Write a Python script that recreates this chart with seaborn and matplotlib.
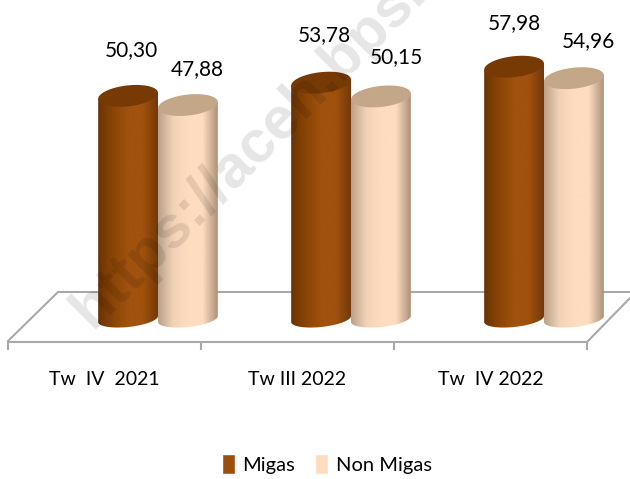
import numpy as np
import pandas as pd
import matplotlib.pyplot as plt
import seaborn as sns
from matplotlib.colors import LinearSegmentedColormap
from matplotlib.patches import PathPatch, Polygon
from matplotlib.path import Path
from matplotlib.transforms import Affine2D

# Values
quarters = ['Tw  IV  2021', 'Tw III 2022', 'Tw  IV 2022']
migas = [50.30, 53.78, 57.98]
non_migas = [47.88, 50.15, 54.96]
series_names = ['Migas', 'Non Migas']

data = pd.DataFrame({
    'quarter': quarters * 2,
    'value': migas + non_migas,
    'series': [series_names[0]] * 3 + [series_names[1]] * 3,
})

W, H = 630, 479
sns.set_style('white')
plt.rcParams['font.family'] = ['Lato', 'DejaVu Sans']

fig = plt.figure(figsize=(W / 100, H / 100), dpi=100)
# axes bottom sits on the front edge of the floor
ax = fig.add_axes([0, (H - 342) / H, 1, 342 / H])
px = Affine2D().scale(1 / W, -1 / H).translate(0, 1) + fig.transFigure

sns.barplot(data=data, x='quarter', y='value', hue='series', width=0.62, ax=ax,
            palette=['#9c4f0c', '#fedcc0'], saturation=1)
ax.set_xlim(-158 / 193, (W - 158) / 193)
ax.set_ylim((287 - 342) / 3.8, 287 / 3.8)
ax.set_xlabel('')
ax.set_ylabel('')
ax.set_yticks([])
for side in ['top', 'left', 'right']:
    ax.spines[side].set_visible(False)

# x axis: ticks between the groups, labels on minor ticks
grey = '#a9a9a9'
edges = np.arange(4) - 150 / 193
ax.spines['bottom'].set_color(grey)
ax.spines['bottom'].set_linewidth(1.5)
ax.spines['bottom'].set_bounds(edges[0], edges[-1])
ax.set_xticks(edges)
ax.set_xticklabels([])
ax.set_xticks(edges[:-1] + 0.5, minor=True)
ax.set_xticklabels(quarters, minor=True, fontsize=14, color='black')
ax.tick_params(axis='x', which='major', bottom=True, length=6, width=1.5, color=grey)
ax.tick_params(axis='x', which='minor', bottom=False, length=0, pad=21)

# floor of the 3D box
ax.plot([8, 58, W], [341, 292, 292], color=grey, lw=1.5, transform=px, zorder=1)
ax.plot([588, W], [341, 298], color=grey, lw=1.5, transform=px, zorder=1)

leg = ax.legend(ncol=2, frameon=False, fontsize=14.5, loc='center', labelcolor='black',
                bbox_to_anchor=(327 / W, 1 - 464 / H), bbox_transform=fig.transFigure,
                handlelength=0.6, handleheight=1.1, handletextpad=0.4, columnspacing=1.0)

body_maps = [
    LinearSegmentedColormap.from_list('m', ['#6b3303', '#8a4506', '#a0520e', '#a0520e', '#73390a']),
    LinearSegmentedColormap.from_list('n', ['#b9a18a', '#f2d2b6', '#fedcc0', '#fedcc0', '#ad9279']),
]
top_colors = ['#783a05', '#c4a688']
floor_y, floor_b, top_b, tilt = 319, 8, 10.5, 3
t = np.linspace(0, 2 * np.pi, 90)
grad = np.linspace(0, 1, 128).reshape(1, -1)

# label offsets from each bar top, in pixels (Migas bars first, then Non Migas)
label_dy = [46, 48, 44, 36, 39, 37]
label_dx = [3, 3, 0, 9, 16, 15]

for n, bar in enumerate(ax.patches[:6]):
    k = n // 3
    x0, ytop = ax.transData.transform((bar.get_x(), bar.get_height()))
    x1, _ = ax.transData.transform((bar.get_x() + bar.get_width(), 0))
    ytop = H - ytop
    cx, a = (x0 + x1) / 2, (x1 - x0) / 2

    # body of the cylinder: top edge line, then lower half of the base ellipse
    low = np.linspace(np.pi, 0, 40)
    base = np.c_[cx + a * np.cos(low), floor_y + floor_b * np.sin(low) - tilt * np.cos(low)]
    pts = np.vstack([[[x0, ytop + tilt]], base, [[x1, ytop - tilt]]])
    shape = PathPatch(Path(np.vstack([pts, pts[0]]), closed=True), transform=px, fc='none', ec='none')
    ax.add_patch(shape)
    im = ax.imshow(grad, cmap=body_maps[k], extent=[x0, x1, 340, 50], aspect='auto',
                   transform=px, zorder=2 + k)
    im.set_clip_path(shape)

    lid = np.c_[cx + a * np.cos(t), ytop + top_b * np.sin(t) - tilt * np.cos(t)]
    ax.add_patch(Polygon(lid, closed=True, transform=px, fc=top_colors[k], ec='none', zorder=2 + k))

    value = bar.get_height()
    ax.text(cx + label_dx[n], ytop - label_dy[n], f'{value:.2f}'.replace('.', ','), transform=px,
            ha='center', va='center', fontsize=15, color='black', zorder=6)
    bar.set_visible(False)

ax.set_xlim(-158 / 193, (W - 158) / 193)
ax.set_ylim((287 - 342) / 3.8, 287 / 3.8)

# site watermark across the chart
fig.text(92, 330, 'https://aceh.bps.go.id', transform=px, rotation=45, rotation_mode='anchor',
         ha='left', va='baseline', fontsize=43, fontweight='bold', color='black', alpha=0.1,
         family='Liberation Sans', zorder=10)

fig.savefig('out.png', dpi=100)
